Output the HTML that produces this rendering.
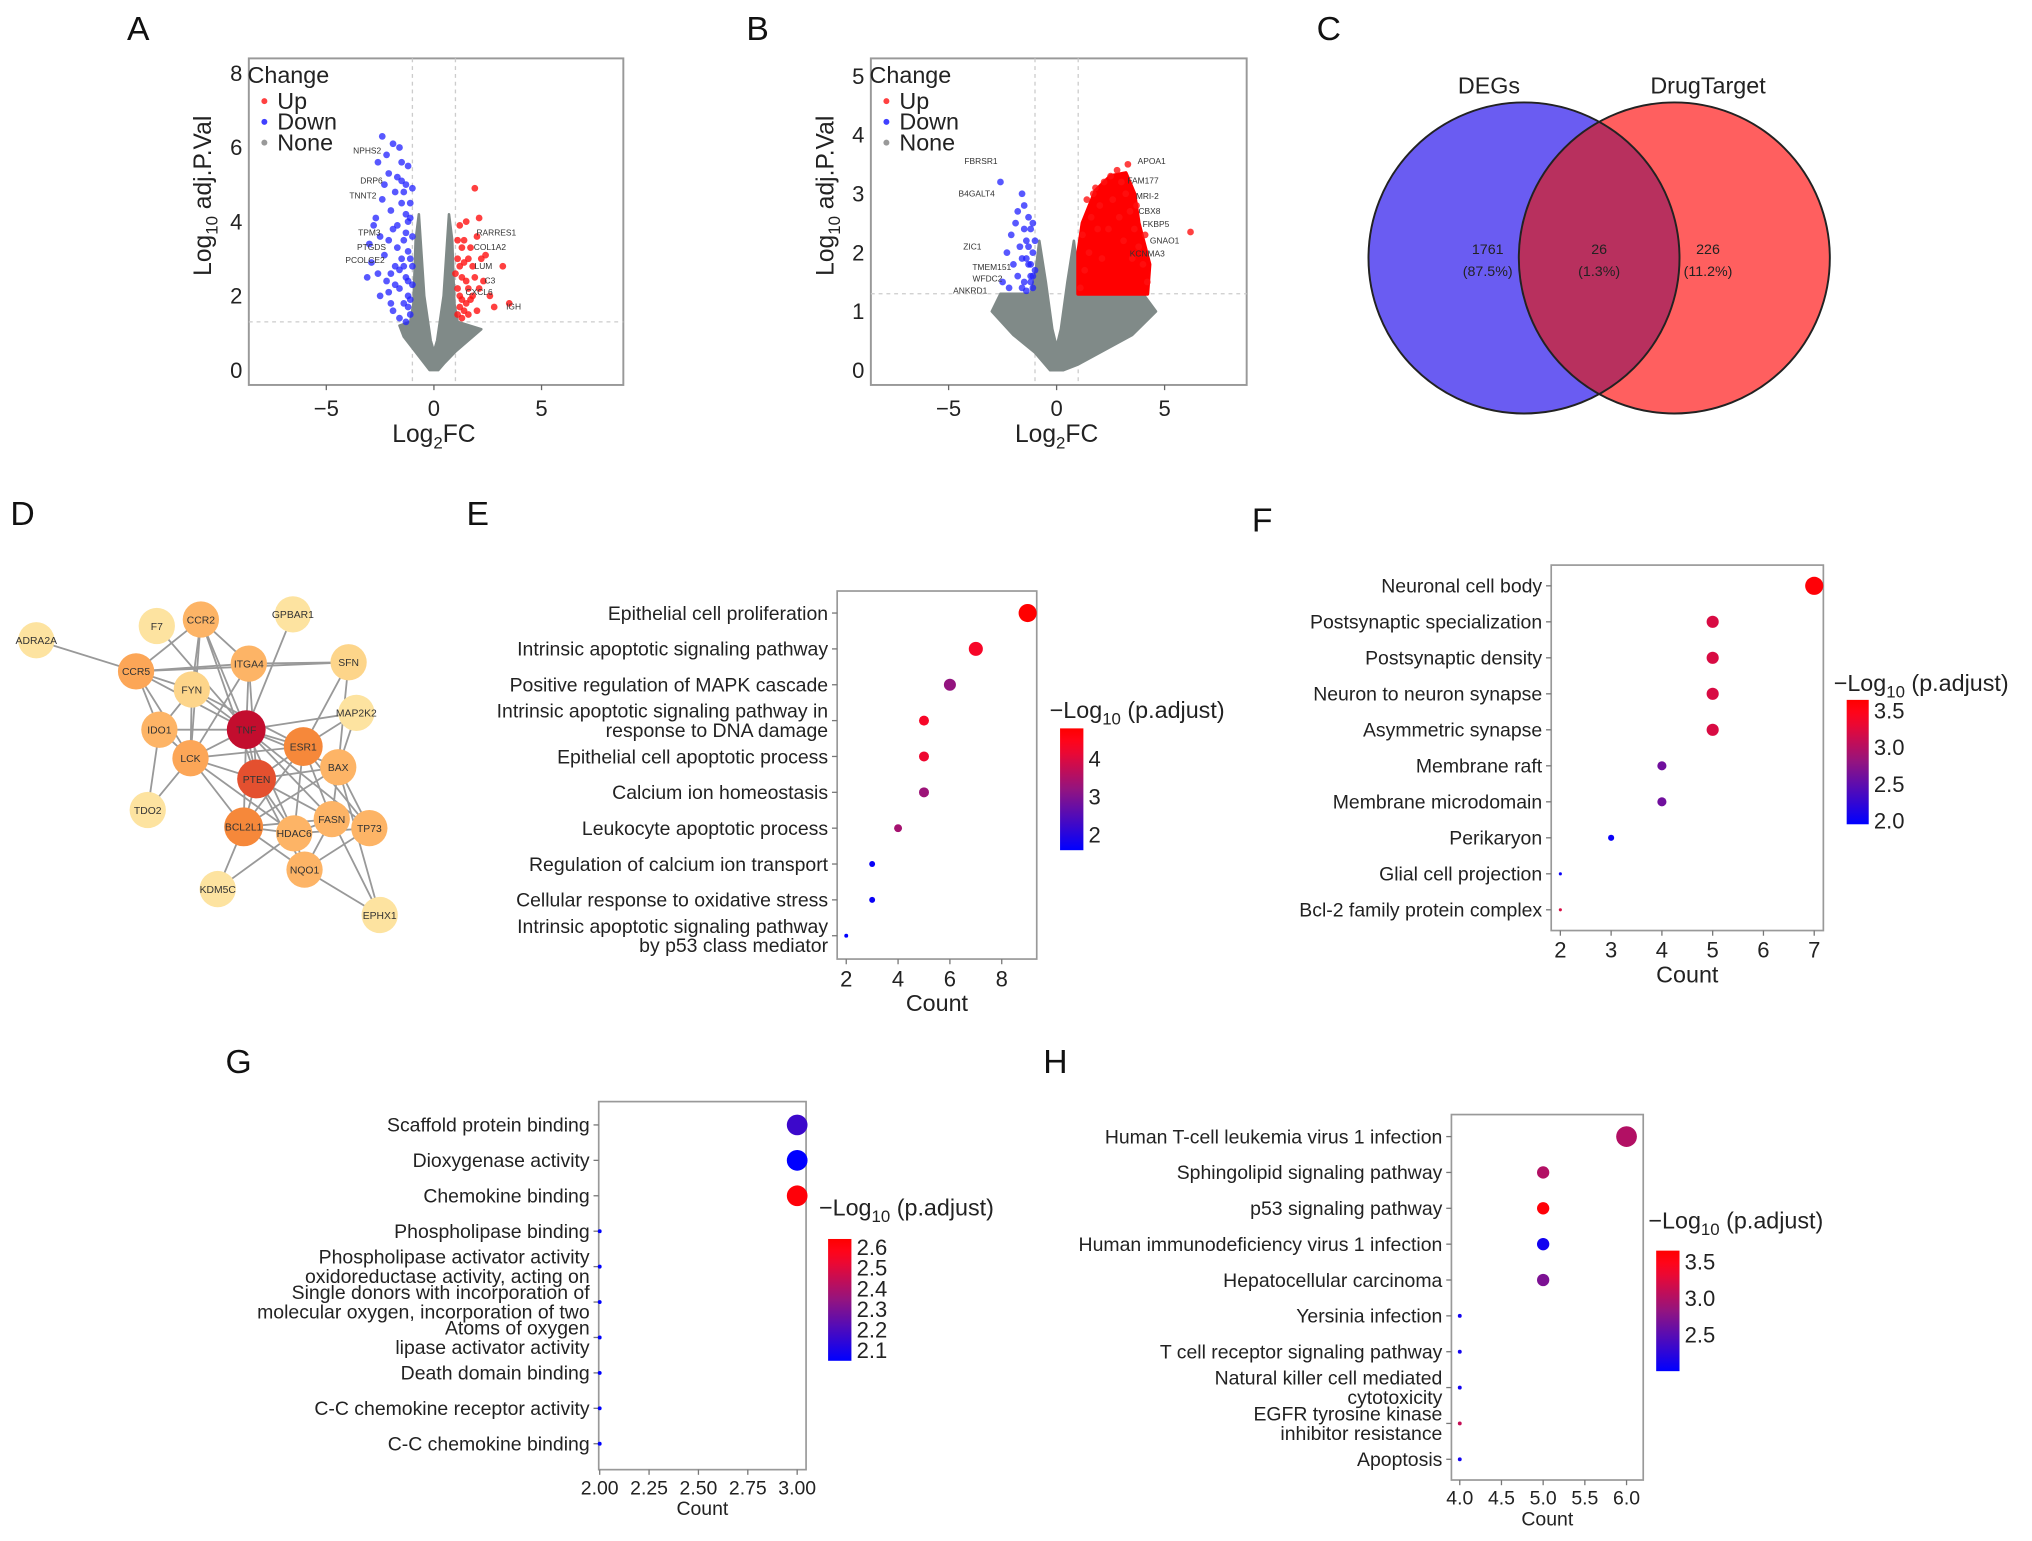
<!DOCTYPE html>
<html><head><meta charset="utf-8">
<style>
html,body{margin:0;padding:0;background:#fff;}
svg{display:block;font-family:"Liberation Sans",Arial,sans-serif;}
</style></head>
<body>
<svg id="fig" width="2032" height="1541" viewBox="0 0 1568 1189" xmlns="http://www.w3.org/2000/svg">
<rect width="1568" height="1189" fill="#fff"/>
<g id="root"></g>
</svg>
<script>
// ---------- DATA ----------
const volcA_up = [[1.1,1.5],[1.2,2.0],[1.3,2.5],[1.1,3.0],[1.4,3.5],[1.2,3.9],[1.6,2.2],[1.8,2.8],[1.7,3.3],[2.0,3.6],[2.1,4.1],[1.9,4.9],[1.5,1.8],[2.3,2.4],[2.6,2.0],[2.4,3.1],[3.2,2.8],[2.8,1.7],[3.5,1.8],[1.3,1.4],[2.0,1.6],[1.5,4.0],[2.2,3.0],[1.0,2.6],[1.4,2.9],[1.6,1.5],[1.1,2.2],[1.8,2.0],[1.3,3.3],[1.2,1.7],[1.5,2.4],[1.7,1.9],[1.1,3.5],[1.9,2.5],[1.4,1.6],[2.1,2.2],[1.2,2.8],[1.6,3.0],[1.3,1.9]];
const volcA_down = [[-1.1,1.5],[-1.2,2.0],[-1.3,2.5],[-1.1,3.0],[-1.4,3.5],[-1.2,4.0],[-1.5,4.5],[-1.3,5.0],[-1.6,2.2],[-1.8,2.8],[-1.7,3.3],[-1.9,3.8],[-2.0,4.3],[-1.8,4.8],[-2.1,5.3],[-1.5,5.6],[-2.2,5.8],[-2.4,6.3],[-1.9,6.1],[-2.6,5.6],[-2.3,3.1],[-2.5,3.6],[-2.7,4.1],[-2.2,2.4],[-2.0,1.8],[-2.6,2.6],[-2.9,2.9],[-2.4,4.6],[-3.0,3.4],[-1.4,1.8],[-1.6,1.4],[-1.1,4.5],[-1.2,5.5],[-1.7,5.2],[-2.8,3.9],[-3.1,2.5],[-1.0,2.3],[-1.0,3.6],[-1.3,1.3],[-2.1,2.1],[-2.5,2.0],[-1.9,1.6],[-1.5,3.0],[-1.3,4.2],[-1.7,3.9],[-1.1,1.9],[-1.6,2.7],[-2.1,3.5],[-1.4,4.8],[-1.2,3.2],[-1.8,2.3],[-2.3,5.0],[-1.6,6.0],[-1.0,4.9],[-2.0,2.6],[-1.2,1.7],[-1.4,2.8],[-1.1,4.1],[-1.3,3.7],[-1.5,5.1],[-1.0,2.8],[-1.2,2.4]];
const grayA = [[-0.2,0],[-0.6,0.3],[-1.0,0.6],[-1.4,0.9],[-1.6,1.2],[-1.1,1.3],[-0.95,1.8],[-0.85,3.5],[-0.7,4.2],[-0.45,2.0],[-0.15,0.8],[0,0.5],[0.15,0.8],[0.45,2.0],[0.7,4.2],[0.85,3.5],[0.95,1.8],[1.1,1.3],[2.2,1.1],[1.6,0.8],[1.0,0.5],[0.5,0.2],[0.2,0]];
const volcA_labels = [["NPHS2",-3.1,5.9],["DRP6",-2.9,5.1],["TNNT2",-3.3,4.7],["TPM3",-3.0,3.7],["PTGDS",-2.9,3.3],["PCOLCE2",-3.2,2.95],["RARRES1",2.9,3.7],["COL1A2",2.6,3.3],["LUM",2.3,2.8],["C3",2.6,2.4],["CXCL6",2.1,2.1],["IGH",3.7,1.7]];

const volcB_up = [[1.1,1.4],[1.3,1.7],[1.5,2.0],[1.2,2.3],[1.6,2.6],[1.4,2.9],[1.8,3.1],[2.0,2.8],[2.2,3.2],[2.5,3.3],[2.8,3.4],[3.0,3.2],[3.2,3.0],[3.4,2.7],[3.6,2.4],[3.8,2.1],[4.0,1.8],[4.2,1.5],[3.3,3.5],[2.6,2.9],[2.9,2.6],[3.1,2.2],[2.4,2.4],[1.9,2.4],[3.5,1.9],[6.2,2.35],[4.1,2.3],[3.7,2.8],[1.7,3.0],[2.1,1.9]];
const redEnvB = [[1,1.3],[4.2,1.3],[4.3,1.8],[3.8,2.5],[3.6,3.0],[3.2,3.35],[2.5,3.3],[1.8,3.05],[1.2,2.5],[1,2.0]];
const volcB_down = [[-1.1,1.4],[-1.2,1.6],[-1.3,1.8],[-1.1,2.0],[-1.4,2.2],[-1.2,2.4],[-1.5,1.5],[-1.6,1.9],[-1.7,2.1],[-1.3,2.6],[-1.5,2.8],[-1.8,1.6],[-2.0,1.8],[-2.1,2.3],[-1.9,2.5],[-2.3,2.0],[-2.5,1.5],[-2.6,3.2],[-1.6,3.0],[-1.8,2.7],[-2.2,1.4],[-1.4,1.35],[-1.0,1.7],[-1.0,2.2],[-1.2,1.5],[-1.4,1.9],[-1.1,1.6],[-1.3,2.1],[-1.6,1.4],[-1.2,1.8],[-1.5,2.4],[-1.1,2.5]];
const grayB = [[-0.3,0],[-1,0.3],[-2,0.6],[-3,1.0],[-2.6,1.3],[-1.2,1.3],[-1.0,1.6],[-0.8,2.2],[-0.5,1.5],[-0.2,0.7],[0,0.4],[0.2,0.7],[0.5,1.5],[0.8,2.2],[1.0,1.6],[1.2,1.3],[4.0,1.3],[4.6,1.0],[3.5,0.6],[2,0.3],[1,0.1],[0.3,0]];
const volcB_labels = [["FBRSR1",-3.5,3.55],["B4GALT4",-3.7,3.0],["ZIC1",-3.9,2.1],["TMEM151",-3.0,1.75],["WFDC2",-3.2,1.55],["ANKRD1",-4.0,1.35],["APOA1",4.4,3.55],["FAM177",4.0,3.22],["MRI-2",4.2,2.95],["CBX8",4.3,2.7],["FKBP5",4.6,2.48],["GNAO1",5.0,2.2],["KCNMA3",4.2,1.98]];

const vennLabels = ["DEGs","DrugTarget"];
const vennCounts = [1761, 26, 226];
const vennPct = ["(87.5%)","(1.3%)","(11.2%)"];

const netNodes = [["ADRA2A",28,494,0],["F7",121,483,0],["CCR2",155,478,2],["GPBAR1",226,474,0],["CCR5",105,518,3],["ITGA4",192,512,2],["SFN",269,511,1],["FYN",148,532,1],["MAP2K2",275,550,0],["IDO1",123,563,2],["TNF",190,563,6],["ESR1",234,576,4],["LCK",147,585,3],["BAX",261,592,2],["PTEN",198,601,5],["TDO2",114,625,0],["FASN",256,632,2],["TP73",285,639,2],["BCL2L1",188,638,4],["HDAC6",227,643,2],["NQO1",235,671,2],["KDM5C",168,686,0],["EPHX1",293,706,0]];
const netEdges = [["ADRA2A","CCR5"],["CCR5","CCR2"],["CCR5","ITGA4"],["CCR5","SFN"],["CCR5","FYN"],["CCR5","IDO1"],["CCR5","LCK"],["CCR5","TNF"],["CCR2","FYN"],["CCR2","ITGA4"],["CCR2","TNF"],["CCR2","LCK"],["CCR2","PTEN"],["F7","TNF"],["GPBAR1","TNF"],["ITGA4","TNF"],["ITGA4","LCK"],["ITGA4","PTEN"],["ITGA4","SFN"],["SFN","ESR1"],["SFN","BAX"],["FYN","LCK"],["FYN","TNF"],["FYN","ESR1"],["FYN","IDO1"],["IDO1","TNF"],["IDO1","TDO2"],["IDO1","LCK"],["TNF","MAP2K2"],["TNF","ESR1"],["TNF","LCK"],["TNF","PTEN"],["TNF","BAX"],["TNF","BCL2L1"],["TNF","FASN"],["TNF","HDAC6"],["TNF","TP73"],["MAP2K2","ESR1"],["MAP2K2","BAX"],["ESR1","LCK"],["ESR1","PTEN"],["ESR1","BCL2L1"],["ESR1","HDAC6"],["ESR1","FASN"],["ESR1","TP73"],["LCK","PTEN"],["LCK","TDO2"],["LCK","BCL2L1"],["LCK","HDAC6"],["PTEN","BCL2L1"],["PTEN","HDAC6"],["PTEN","FASN"],["PTEN","NQO1"],["PTEN","BAX"],["BAX","BCL2L1"],["BAX","TP73"],["BAX","FASN"],["BAX","EPHX1"],["BCL2L1","HDAC6"],["BCL2L1","FASN"],["BCL2L1","KDM5C"],["BCL2L1","NQO1"],["HDAC6","NQO1"],["HDAC6","KDM5C"],["HDAC6","FASN"],["FASN","NQO1"],["FASN","EPHX1"],["NQO1","EPHX1"],["NQO1","TP73"],["TP73","HDAC6"]];

const catsE = [["Epithelial cell proliferation"],["Intrinsic apoptotic signaling pathway"],["Positive regulation of MAPK cascade"],["Intrinsic apoptotic signaling pathway in","response to DNA damage"],["Epithelial cell apoptotic process"],["Calcium ion homeostasis"],["Leukocyte apoptotic process"],["Regulation of calcium ion transport"],["Cellular response to oxidative stress"],["Intrinsic apoptotic signaling pathway","by p53 class mediator"]];
const countE = [9,7,6,5,5,5,4,3,3,2];
const padjE = [4.8,4.3,3.2,4.3,4.2,3.3,3.4,1.7,1.7,1.6];
const ticksE = [2,4,6,8];
const cbarE = [2,3,4];

const catsF = [["Neuronal cell body"],["Postsynaptic specialization"],["Postsynaptic density"],["Neuron to neuron synapse"],["Asymmetric synapse"],["Membrane raft"],["Membrane microdomain"],["Perikaryon"],["Glial cell projection"],["Bcl-2 family protein complex"]];
const countF = [7,5,5,5,5,4,4,3,2,2];
const padjF = [3.6,3.2,3.2,3.2,3.2,2.6,2.6,2.0,2.0,3.2];
const ticksF = [2,3,4,5,6,7];
const cbarF = ["2.0","2.5","3.0","3.5"];

const catsG = [["Scaffold protein binding"],["Dioxygenase activity"],["Chemokine binding"],["Phospholipase binding"],["Phospholipase activator activity","oxidoreductase activity, acting on"],["Single donors with incorporation of","molecular oxygen, incorporation of two"],["Atoms of oxygen","lipase activator activity"],["Death domain binding"],["C-C chemokine receptor activity"],["C-C chemokine binding"]];
const countG = [3,3,3,2,2,2,2,2,2,2];
const padjG = [2.17,2.05,2.62,2.05,2.05,2.05,2.05,2.05,2.05,2.05];
const ticksG = ["2.00","2.25","2.50","2.75","3.00"];
const cbarG = ["2.1","2.2","2.3","2.4","2.5","2.6"];

const catsH = [["Human T-cell leukemia virus 1 infection"],["Sphingolipid signaling pathway"],["p53 signaling pathway"],["Human immunodeficiency virus 1 infection"],["Hepatocellular carcinoma"],["Yersinia infection"],["T cell receptor signaling pathway"],["Natural killer cell mediated","cytotoxicity"],["EGFR tyrosine kinase","inhibitor resistance"],["Apoptosis"]];
const countH = [6,5,5,5,5,4,4,4,4,4];
const padjH = [3.0,3.0,3.6,2.1,2.7,2.1,2.1,2.1,3.1,2.1];
const ticksH = ["4.0","4.5","5.0","5.5","6.0"];
const cbarH = ["2.5","3.0","3.5"];

// ---------- HELPERS ----------
const NS="http://www.w3.org/2000/svg";
const root=document.getElementById('root');
function mk(tag,attrs,parent,txt){const e=document.createElementNS(NS,tag);for(const k in attrs)e.setAttribute(k,attrs[k]);if(txt!==undefined)e.textContent=txt;(parent||root).appendChild(e);return e;}
function grp(name){const g=mk('g',{});return g;}
function lin(d0,d1,r0,r1){return v=>r0+(v-d0)/(d1-d0)*(r1-r0);}
function colmap(t){t=Math.max(0,Math.min(1,t));return `rgb(${Math.round(255*Math.min(1,t*1.15))},${Math.round(20*(1-Math.abs(2*t-1)))},${Math.round(255*(1-t))})`;}
function letter(ch,x,y){const t=mk('text',{x:x,y:y,'font-size':26,fill:'#111'},root,ch);}

// ---------- VOLCANO ----------
function volcano(id,box,xd,yd,yticks,up,down,gray,redEnv,labels){
  const g=grp('volcano-'+id);
  const X=lin(xd[0],xd[1],box[0],box[2]),Y=lin(yd[0],yd[1],box[3],box[1]);
  const fr=mk('rect',{x:box[0],y:box[1],width:box[2]-box[0],height:box[3]-box[1],fill:'#fff',stroke:'#999','stroke-width':1.5},g);
  
  [-1,1].forEach(v=>{const l=mk('line',{x1:X(v),x2:X(v),y1:box[1],y2:box[3],stroke:'#ccc','stroke-dasharray':'3,3'},g);});
  const th=mk('line',{x1:box[0],x2:box[2],y1:Y(1.3),y2:Y(1.3),stroke:'#ccc','stroke-dasharray':'3,3'},g);
  const gp=mk('polygon',{points:gray.map(p=>X(p[0])+','+Y(p[1])).join(' '),fill:'#808a88',stroke:'#808a88','stroke-width':2,'stroke-linejoin':'round'},g);
  
  if(redEnv){const rp=mk('polygon',{points:redEnv.map(p=>X(p[0])+','+Y(p[1])).join(' '),fill:'#f00',stroke:'#f00','stroke-width':3,'stroke-linejoin':'round'},g);}
  down.forEach(p=>{const c=mk('circle',{cx:X(p[0]),cy:Y(p[1]),r:2.6,fill:'#2020ff','fill-opacity':0.75},g);});
  up.forEach(p=>{const c=mk('circle',{cx:X(p[0]),cy:Y(p[1]),r:2.6,fill:'#ff1010','fill-opacity':0.8},g);});
  labels.forEach(l=>{const t=mk('text',{x:X(l[1]),y:Y(l[2])+2,'font-size':6.5,'text-anchor':'middle',fill:'#333'},g,l[0]);});
  [-5,0,5].forEach(v=>{mk('line',{x1:X(v),x2:X(v),y1:box[3],y2:box[3]+4,stroke:'#666'},g);const t=mk('text',{x:X(v),y:box[3]+24,'font-size':17,'text-anchor':'middle',fill:'#222'},g,v<0?'−'+Math.abs(v):v);});
  yticks.forEach(v=>{const t=mk('text',{x:box[0]-5,y:Y(v)+6,'font-size':17,'text-anchor':'end',fill:'#222'},g,v);});
  const xt=mk('text',{x:(X(0)),y:box[3]+44,'font-size':19,'text-anchor':'middle',fill:'#222'},g);
  mk('tspan',{},xt,'Log');mk('tspan',{'font-size':13,dy:5},xt,'2');mk('tspan',{dy:-5},xt,'FC');
  const cy=(box[1]+box[3])/2-20;
  const yt=mk('text',{x:0,y:0,transform:`translate(${box[0]-29},${cy}) rotate(-90)`,'font-size':19,'text-anchor':'middle',fill:'#222'},g);
  mk('tspan',{},yt,'Log');mk('tspan',{'font-size':13,dy:5},yt,'10');mk('tspan',{dy:-5},yt,' adj.P.Val');
  const lg=grp('legend');g.appendChild(lg);
  mk('text',{x:box[0]-1,y:box[1]+19,'font-size':18,fill:'#222'},lg,'Change');
  [['Up','#ff4040'],['Down','#4040ff'],['None','#999']].forEach((e,i)=>{const yy=box[1]+34+i*16;const c=mk('circle',{cx:box[0]+12,cy:yy-1,r:2.3,fill:e[1]},lg);const t=mk('text',{x:box[0]+22,y:yy+5,'font-size':18,fill:'#222'},lg,e[0]);});
}
letter('A',98,31);
volcano('a',[192,45,481,297],[-8.6,8.8],[-0.4,8.4],[0,2,4,6,8],volcA_up,volcA_down,grayA,null,volcA_labels);
letter('B',576,31);
volcano('b',[672,45,962,297],[-8.6,8.8],[-0.25,5.3],[0,1,2,3,4,5],volcB_up,volcB_down,grayB,redEnvB,volcB_labels);

// ---------- VENN ----------
letter('C',1016,31);
(function(){
  const g=grp('venn-diagram');
  const defs=mk('defs',{},g);const cp=mk('clipPath',{id:'clipL'},defs);mk('circle',{cx:1176,cy:199,r:120},cp);
  const a=mk('circle',{cx:1176,cy:199,r:120,fill:'#6a5cf2'},g);
  const b=mk('circle',{cx:1292,cy:199,r:120,fill:'#ff5f5f'},g);
  const o=mk('circle',{cx:1292,cy:199,r:120,fill:'#b8305e','clip-path':'url(#clipL)'},g);
  mk('circle',{cx:1176,cy:199,r:120,fill:'none',stroke:'#222','stroke-width':1.5},g);
  mk('circle',{cx:1292,cy:199,r:120,fill:'none',stroke:'#222','stroke-width':1.5},g);
  [[1149,vennLabels[0]],[1318,vennLabels[1]]].forEach(l=>{const t=mk('text',{x:l[0],y:72,'font-size':18,'text-anchor':'middle',fill:'#222'},g,l[1]);});
  [1148,1234,1318].forEach((x,i)=>{const t=mk('text',{x:x,y:196,'font-size':11,'text-anchor':'middle',fill:'#222'},g,vennCounts[i]);const p=mk('text',{x:x,y:213,'font-size':11,'text-anchor':'middle',fill:'#222'},g,vennPct[i]);});
})();

// ---------- NETWORK ----------
letter('D',8,405);
(function(){
  const g=grp('ppi-network');
  const pos={};netNodes.forEach(n=>pos[n[0]]=n);
  const pal=['#fde3a0','#fdd58a','#fdb466','#fca657','#f6883a','#e4502f','#c30d2e'];
  netEdges.forEach(e=>{const a=pos[e[0]],b=pos[e[1]];const l=mk('line',{x1:a[1],y1:a[2],x2:b[1],y2:b[2],stroke:'#999','stroke-width':1.4},g);});
  netNodes.forEach(n=>{const c=mk('circle',{cx:n[1],cy:n[2],r:n[3]>=4?15:14,fill:pal[n[3]]},g);const t=mk('text',{x:n[1],y:n[2]+3,'font-size':8,'text-anchor':'middle',fill:'#333'},g,n[0]);});
})();

// ---------- DOT PLOTS ----------
function dotplot(id,box,xd,ticks,cats,counts,padj,rowTop,rowBot,cmin,cmax,rmin,rmax,cb,cbTicks,titlePos,fs,tickFs,titleFs){
  const g=grp('dotplot-'+id);
  const X=lin(xd[0],xd[1],box[0],box[2]);
  const n=cats.length,R=i=>rowTop+i*(rowBot-rowTop)/(n-1);
  const fr=mk('rect',{x:box[0],y:box[1],width:box[2]-box[0],height:box[3]-box[1],fill:'#fff',stroke:'#999','stroke-width':1.3},g);
  const cmn=Math.min(...counts),cmx=Math.max(...counts);
  cats.forEach((c,i)=>{
    const y=R(i);mk('line',{x1:box[0]-4,x2:box[0],y1:y,y2:y,stroke:'#777'},g);
    const lh=fs*1.0;const y0=y-(c.length-1)*lh/2;
    c.forEach((s,j)=>{const t=mk('text',{x:box[0]-7,y:y0+j*lh+fs*0.35,'font-size':fs,'text-anchor':'end',fill:'#222'},g,s);});
    const r=rmin+(counts[i]-cmn)/((cmx-cmn)||1)*(rmax-rmin);
    const d=mk('circle',{cx:X(counts[i]),cy:y,r:r,fill:colmap((padj[i]-cmin)/(cmax-cmin))},g);
  });
  ticks.forEach(v=>{const xv=X(parseFloat(v));mk('line',{x1:xv,x2:xv,y1:box[3],y2:box[3]+4,stroke:'#777'},g);const t=mk('text',{x:xv,y:box[3]+tickFs+4,'font-size':tickFs,'text-anchor':'middle',fill:'#222'},g,v);});
  const xt=mk('text',{x:(box[0]+box[2])/2,y:box[3]+tickFs+titleFs+5,'font-size':titleFs,'text-anchor':'middle',fill:'#222'},g,'Count');
  // colorbar
  const gid='grad'+id;const df=mk('defs',{},g);const lg=mk('linearGradient',{id:gid,x1:0,y1:1,x2:0,y2:0},df);
  for(let k=0;k<=10;k++)mk('stop',{offset:k/10,'stop-color':colmap(k/10)},lg);
  const cbr=mk('rect',{x:cb[0],y:cb[1],width:cb[2]-cb[0],height:cb[3]-cb[1],fill:`url(#${gid})`},g);
  const CY=lin(cmin,cmax,cb[3],cb[1]);
  cbTicks.forEach(v=>{const y=CY(parseFloat(v));const t=mk('text',{x:cb[2]+4,y:y+6,'font-size':17,fill:'#222'},g,v);});
  const tt=mk('text',{x:titlePos[0],y:titlePos[1],'font-size':18,fill:'#222'},g);
  mk('tspan',{},tt,'−Log');mk('tspan',{'font-size':13,dy:5},tt,'10');mk('tspan',{dy:-5},tt,' (p.adjust)');
}
letter('E',360,405);
dotplot('e',[646,456,800,740],[1.65,9.35],ticksE,catsE,countE,padjE,473,722,1.6,4.8,1.5,7,[818,562,836,656],cbarE,[810,554],15,17,18);
letter('F',966,410);
dotplot('f',[1197,436,1407,718],[1.82,7.18],ticksF,catsF,countF,padjF,452,702,1.95,3.65,1.2,7,[1425,540,1442,636],cbarF,[1415,533],15,17,18);
letter('G',174,828);
dotplot('g',[462,850,622,1134],[1.995,3.045],ticksG,catsG,countG,padjG,868,1114,2.05,2.64,1.5,8,[639,956,657,1050],cbarG,[632,938],15,15,15);
letter('H',805,828);
dotplot('h',[1120,860,1268,1142],[3.9,6.2],ticksH,catsH,countH,padjH,877,1126,2.0,3.65,1.5,8,[1278,965,1296,1058],cbarH,[1272,948],15,15,15);
</script>
</body></html>
